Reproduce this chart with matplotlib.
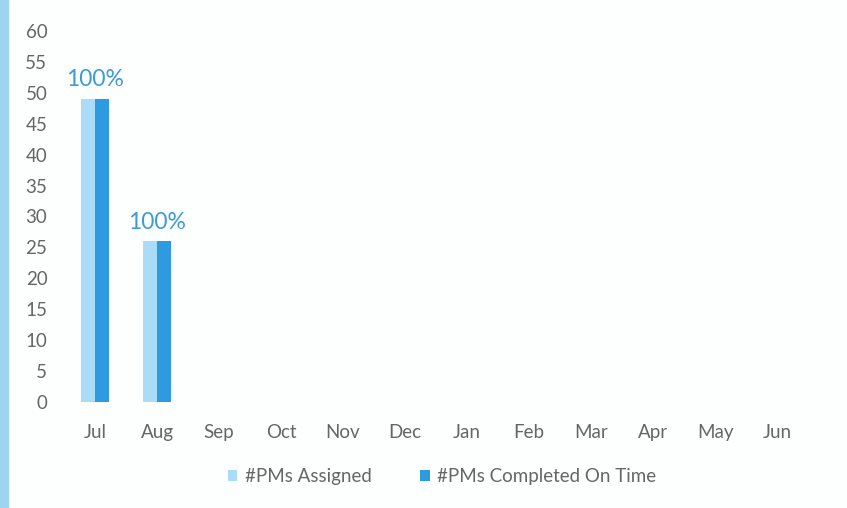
import numpy as np
import matplotlib
matplotlib.use("Agg")
import matplotlib.pyplot as plt
from matplotlib.patches import Rectangle

plt.rcParams["font.family"] = ["Lato", "DejaVu Sans"]

months = ["Jul", "Aug", "Sep", "Oct", "Nov", "Dec",
          "Jan", "Feb", "Mar", "Apr", "May", "Jun"]
assigned = [49, 26, 0, 0, 0, 0, 0, 0, 0, 0, 0, 0]
completed = [49, 26, 0, 0, 0, 0, 0, 0, 0, 0, 0, 0]
pct_labels = ["100%", "100%"]

LIGHT = "#a9dcf6"
DARK = "#2e9ae0"
GREY = "#666666"

fig = plt.figure(figsize=(8.47, 5.08), dpi=100)
fig.patch.set_facecolor("#fdfefe")
ax = fig.add_axes([0.0756, 0.2087, 0.8784, 0.7303])
ax.set_facecolor("none")

x = np.arange(len(months))
w = 0.23
ax.bar(x - w / 2, assigned, w, color=LIGHT, label="#PMs Assigned")
ax.bar(x + w / 2, completed, w, color=DARK, label="#PMs Completed On Time")

for i, lab in enumerate(pct_labels):
    ax.text(x[i], max(assigned[i], completed[i]) + 1.4, lab,
            ha="center", va="bottom", fontsize=16.5, color="#3c9bd8")

ax.set_xlim(-0.5, len(months) - 0.5)
ax.set_ylim(0, 60)
ax.set_yticks(range(0, 61, 5))
ax.set_xticks(x)
ax.set_xticklabels(months)
ax.tick_params(length=0, labelsize=13.5, labelcolor=GREY)
ax.tick_params(axis="x", pad=16)
ax.tick_params(axis="y", pad=12)
for s in ax.spines.values():
    s.set_visible(False)

fig.legend(loc="center", bbox_to_anchor=(0.522, 0.062), ncol=2, frameon=False,
           fontsize=13.5, labelcolor=GREY, handlelength=0.5, handleheight=0.5,
           handletextpad=0.4, columnspacing=2.6)

# light blue edge from the screenshot
fig.patches.append(Rectangle((0, 0), 0.009, 1, transform=fig.transFigure,
                             color="#9fd3f2", zorder=-1))

fig.savefig("out.png", dpi=100, facecolor=fig.get_facecolor())
